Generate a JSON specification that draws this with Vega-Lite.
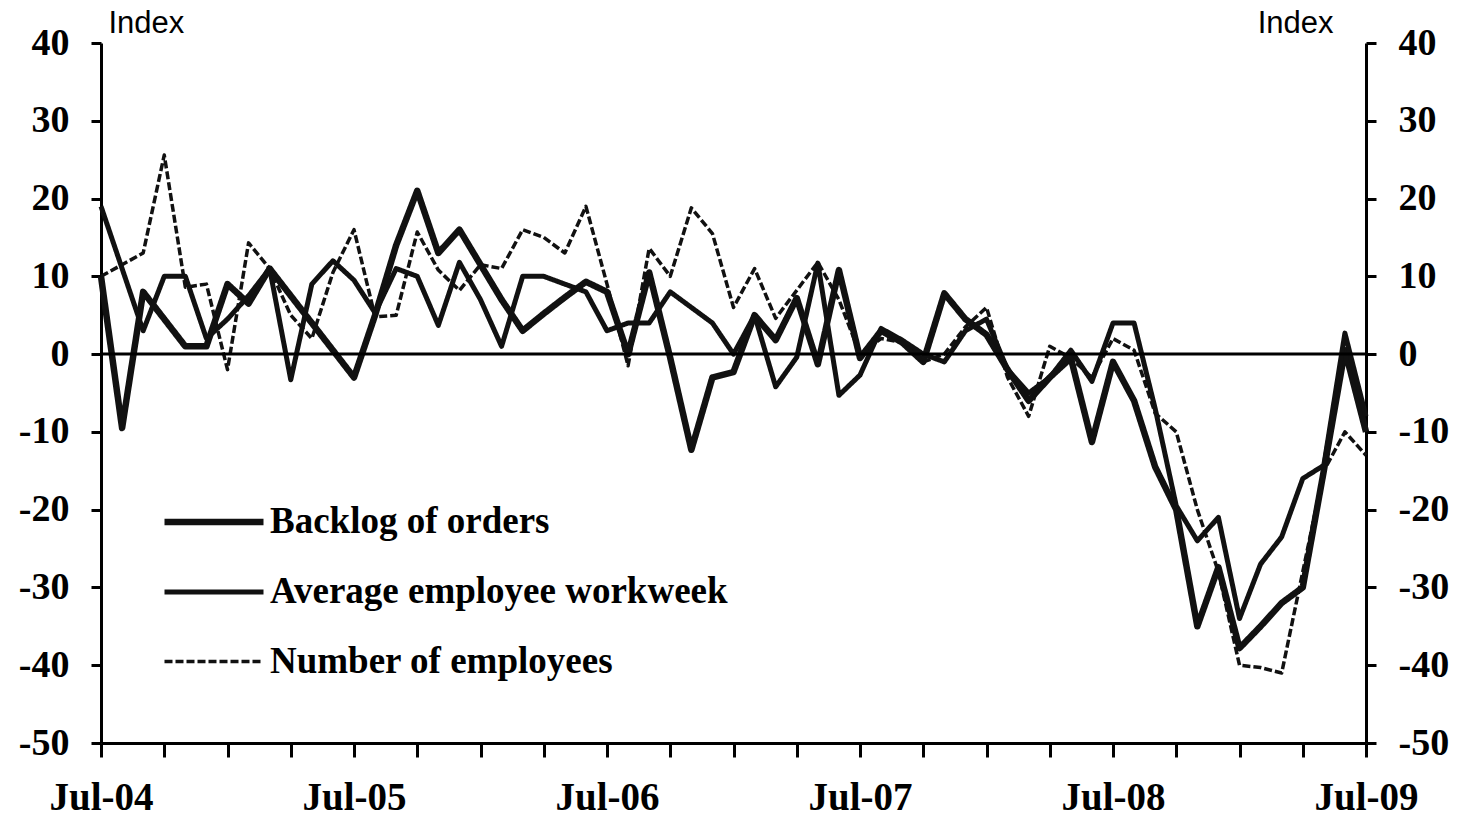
{
  "$schema": "https://vega.github.io/schema/vega-lite/v6.json",
  "width": 1265,
  "height": 700,
  "autosize": {"type": "none"},
  "padding": {"left": 101, "top": 43, "right": 93, "bottom": 74},
  "background": "white",
  "config": {"view": {"stroke": null}},
  "layer": [
    {
      "data": {"values": [
        {"m": "Jul-04", "backlog": 10, "workweek": 19, "employees": 10},
        {"m": "Aug-04", "backlog": -9.5, "workweek": 11, "employees": 11.5},
        {"m": "Sep-04", "backlog": 8, "workweek": 3, "employees": 13},
        {"m": "Oct-04", "backlog": 4.5, "workweek": 10, "employees": 25.6},
        {"m": "Nov-04", "backlog": 1, "workweek": 10, "employees": 8.6},
        {"m": "Dec-04", "backlog": 1, "workweek": 2, "employees": 9},
        {"m": "Jan-05", "backlog": 9, "workweek": 4.5, "employees": -2},
        {"m": "Feb-05", "backlog": 6.5, "workweek": 7.5, "employees": 14.3},
        {"m": "Mar-05", "backlog": 11, "workweek": 11, "employees": 11},
        {"m": "Apr-05", "backlog": 7.5, "workweek": -3.3, "employees": 5},
        {"m": "May-05", "backlog": 4, "workweek": 9, "employees": 2},
        {"m": "Jun-05", "backlog": 0.5, "workweek": 12, "employees": 10.5},
        {"m": "Jul-05", "backlog": -3, "workweek": 9.5, "employees": 16},
        {"m": "Aug-05", "backlog": 5, "workweek": 5.3, "employees": 4.8},
        {"m": "Sep-05", "backlog": 14, "workweek": 11, "employees": 5},
        {"m": "Oct-05", "backlog": 21, "workweek": 10, "employees": 15.7},
        {"m": "Nov-05", "backlog": 13, "workweek": 3.7, "employees": 10.8},
        {"m": "Dec-05", "backlog": 16, "workweek": 11.8, "employees": 8.2},
        {"m": "Jan-06", "backlog": 11.5, "workweek": 7, "employees": 11.5},
        {"m": "Feb-06", "backlog": 7, "workweek": 1, "employees": 11},
        {"m": "Mar-06", "backlog": 3, "workweek": 10, "employees": 16},
        {"m": "Apr-06", "backlog": 5.2, "workweek": 10, "employees": 15},
        {"m": "May-06", "backlog": 7.3, "workweek": 9, "employees": 13},
        {"m": "Jun-06", "backlog": 9.3, "workweek": 8, "employees": 19},
        {"m": "Jul-06", "backlog": 8, "workweek": 3, "employees": 9},
        {"m": "Aug-06", "backlog": 0, "workweek": 4, "employees": -1.5},
        {"m": "Sep-06", "backlog": 10.5, "workweek": 4, "employees": 13.6},
        {"m": "Oct-06", "backlog": -0.5, "workweek": 8, "employees": 10},
        {"m": "Nov-06", "backlog": -12.3, "workweek": 6, "employees": 18.8},
        {"m": "Dec-06", "backlog": -3, "workweek": 4, "employees": 15.5},
        {"m": "Jan-07", "backlog": -2.3, "workweek": 0, "employees": 6},
        {"m": "Feb-07", "backlog": 5, "workweek": 5, "employees": 11},
        {"m": "Mar-07", "backlog": 1.8, "workweek": -4.2, "employees": 4.6},
        {"m": "Apr-07", "backlog": 7.2, "workweek": -0.4, "employees": 8.2},
        {"m": "May-07", "backlog": -1.3, "workweek": 11.7, "employees": 11.8},
        {"m": "Jun-07", "backlog": 10.8, "workweek": -5.3, "employees": 7},
        {"m": "Jul-07", "backlog": -0.5, "workweek": -2.7, "employees": 0},
        {"m": "Aug-07", "backlog": 3, "workweek": 3.3, "employees": 2},
        {"m": "Sep-07", "backlog": 1.5, "workweek": 1.8, "employees": 1.5},
        {"m": "Oct-07", "backlog": -1, "workweek": 0, "employees": -1},
        {"m": "Nov-07", "backlog": 7.8, "workweek": -1, "employees": 0},
        {"m": "Dec-07", "backlog": 4.5, "workweek": 3, "employees": 3.5},
        {"m": "Jan-08", "backlog": 2.5, "workweek": 4.5, "employees": 6},
        {"m": "Feb-08", "backlog": -2, "workweek": -2, "employees": -3},
        {"m": "Mar-08", "backlog": -6, "workweek": -5, "employees": -8},
        {"m": "Apr-08", "backlog": -3, "workweek": -3, "employees": 1},
        {"m": "May-08", "backlog": -0.5, "workweek": 0.5, "employees": -0.5},
        {"m": "Jun-08", "backlog": -11.3, "workweek": -3.5, "employees": -3},
        {"m": "Jul-08", "backlog": -1, "workweek": 4, "employees": 2},
        {"m": "Aug-08", "backlog": -6, "workweek": 4, "employees": 0.5},
        {"m": "Sep-08", "backlog": -14.5, "workweek": -7, "employees": -7.6},
        {"m": "Oct-08", "backlog": -20, "workweek": -19.5, "employees": -10},
        {"m": "Nov-08", "backlog": -35, "workweek": -24, "employees": -20},
        {"m": "Dec-08", "backlog": -27.4, "workweek": -21, "employees": -28},
        {"m": "Jan-09", "backlog": -37.8, "workweek": -34, "employees": -40},
        {"m": "Feb-09", "backlog": -35, "workweek": -27, "employees": -40.3},
        {"m": "Mar-09", "backlog": -32, "workweek": -23.5, "employees": -41},
        {"m": "Apr-09", "backlog": -30, "workweek": -16, "employees": -28},
        {"m": "May-09", "backlog": -15, "workweek": -14.3, "employees": -15},
        {"m": "Jun-09", "backlog": 0.5, "workweek": 2.7, "employees": -10},
        {"m": "Jul-09", "backlog": -10, "workweek": -8, "employees": -13}
      ]},
      "transform": [{"fold": ["backlog", "workweek", "employees"], "as": ["series", "value"]}],
      "mark": {"type": "line", "color": "#111111", "strokeJoin": "round"},
      "encoding": {
        "x": {
          "field": "m", "type": "ordinal", "sort": null,
          "scale": {"type": "point", "padding": 0},
          "axis": {
            "orient": "bottom", "title": null,
            "values": ["Jul-04","Oct-04","Jan-05","Apr-05","Jul-05","Oct-05","Jan-06","Apr-06","Jul-06","Oct-06","Jan-07","Apr-07","Jul-07","Oct-07","Jan-08","Apr-08","Jul-08","Oct-08","Jan-09","Apr-09","Jul-09"],
            "labelExpr": "indexof(datum.value, 'Jul') == 0 ? datum.value : ''",
            "labelAngle": 0, "labelOverlap": false, "labelBound": false,
            "labelFont": "Liberation Serif", "labelFontWeight": "bold", "labelFontSize": 39, "labelColor": "black",
            "labelPadding": 21,
            "domainColor": "black", "domainWidth": 3, "tickColor": "black", "tickWidth": 3, "tickSize": 14,
            "grid": false
          }
        },
        "y": {
          "field": "value", "type": "quantitative",
          "scale": {"domain": [-50, 40], "nice": false, "zero": false},
          "axis": {
            "orient": "left", "values": [-50,-40,-30,-20,-10,0,10,20,30,40],
            "labelExpr": "datum.value < 0 ? '-' + abs(datum.value) : '' + datum.value",
            "labelFont": "Liberation Serif", "labelFontWeight": "bold", "labelFontSize": 38, "labelColor": "black",
            "labelPadding": 22,
            "domainColor": "black", "domainWidth": 3, "tickColor": "black", "tickWidth": 3, "tickSize": 10,
            "grid": false,
            "title": "Index", "titleAngle": 0, "titleFont": "Liberation Sans", "titleFontWeight": "normal",
            "titleFontSize": 31, "titleColor": "black", "titleX": 7, "titleY": -20, "titleAlign": "left", "titleBaseline": "middle"
          }
        },
        "strokeWidth": {
          "field": "series", "type": "nominal",
          "scale": {"domain": ["backlog", "workweek", "employees"], "range": [6.5, 3.5, 3]},
          "legend": {
            "title": null, "orient": "none", "legendX": 60, "legendY": 426, "direction": "vertical",
            "symbolType": "stroke", "symbolSize": 9801, "symbolStrokeColor": "#111111",
            "labelExpr": "datum.value == 'backlog' ? 'Backlog of orders' : datum.value == 'workweek' ? 'Average employee workweek' : 'Number of employees'",
            "labelFont": "Liberation Serif", "labelFontWeight": "bold", "labelFontSize": 37, "labelColor": "black",
            "labelOffset": 3, "rowPadding": 0, "labelLimit": 800
          }
        },
        "strokeDash": {
          "field": "series", "type": "nominal",
          "scale": {"domain": ["backlog", "workweek", "employees"], "range": [[1, 0], [1, 0], [8, 3]]},
          "legend": {
            "title": null, "orient": "none", "legendX": 60, "legendY": 426, "direction": "vertical",
            "symbolType": "stroke", "symbolSize": 9801, "symbolStrokeColor": "#111111",
            "labelExpr": "datum.value == 'backlog' ? 'Backlog of orders' : datum.value == 'workweek' ? 'Average employee workweek' : 'Number of employees'",
            "labelFont": "Liberation Serif", "labelFontWeight": "bold", "labelFontSize": 37, "labelColor": "black",
            "labelOffset": 3, "rowPadding": 0, "labelLimit": 800
          }
        }
      }
    },
    {
      "data": {"values": [{"z": 0}]},
      "mark": {"type": "rule", "color": "black", "strokeWidth": 3},
      "encoding": {
        "y": {
          "field": "z", "type": "quantitative",
          "axis": {
            "orient": "right", "values": [-50,-40,-30,-20,-10,0,10,20,30,40],
            "labelExpr": "datum.value < 0 ? '-' + abs(datum.value) : '' + datum.value",
            "labelFont": "Liberation Serif", "labelFontWeight": "bold", "labelFontSize": 38, "labelColor": "black",
            "labelPadding": 22,
            "domainColor": "black", "domainWidth": 3, "tickColor": "black", "tickWidth": 3, "tickSize": 10,
            "grid": false,
            "title": "Index", "titleAngle": 0, "titleFont": "Liberation Sans", "titleFontWeight": "normal",
            "titleFontSize": 31, "titleColor": "black", "titleX": -33, "titleY": -20, "titleAlign": "right", "titleBaseline": "middle"
          }
        }
      }
    }
  ],
  "resolve": {"axis": {"y": "independent"}}
}
